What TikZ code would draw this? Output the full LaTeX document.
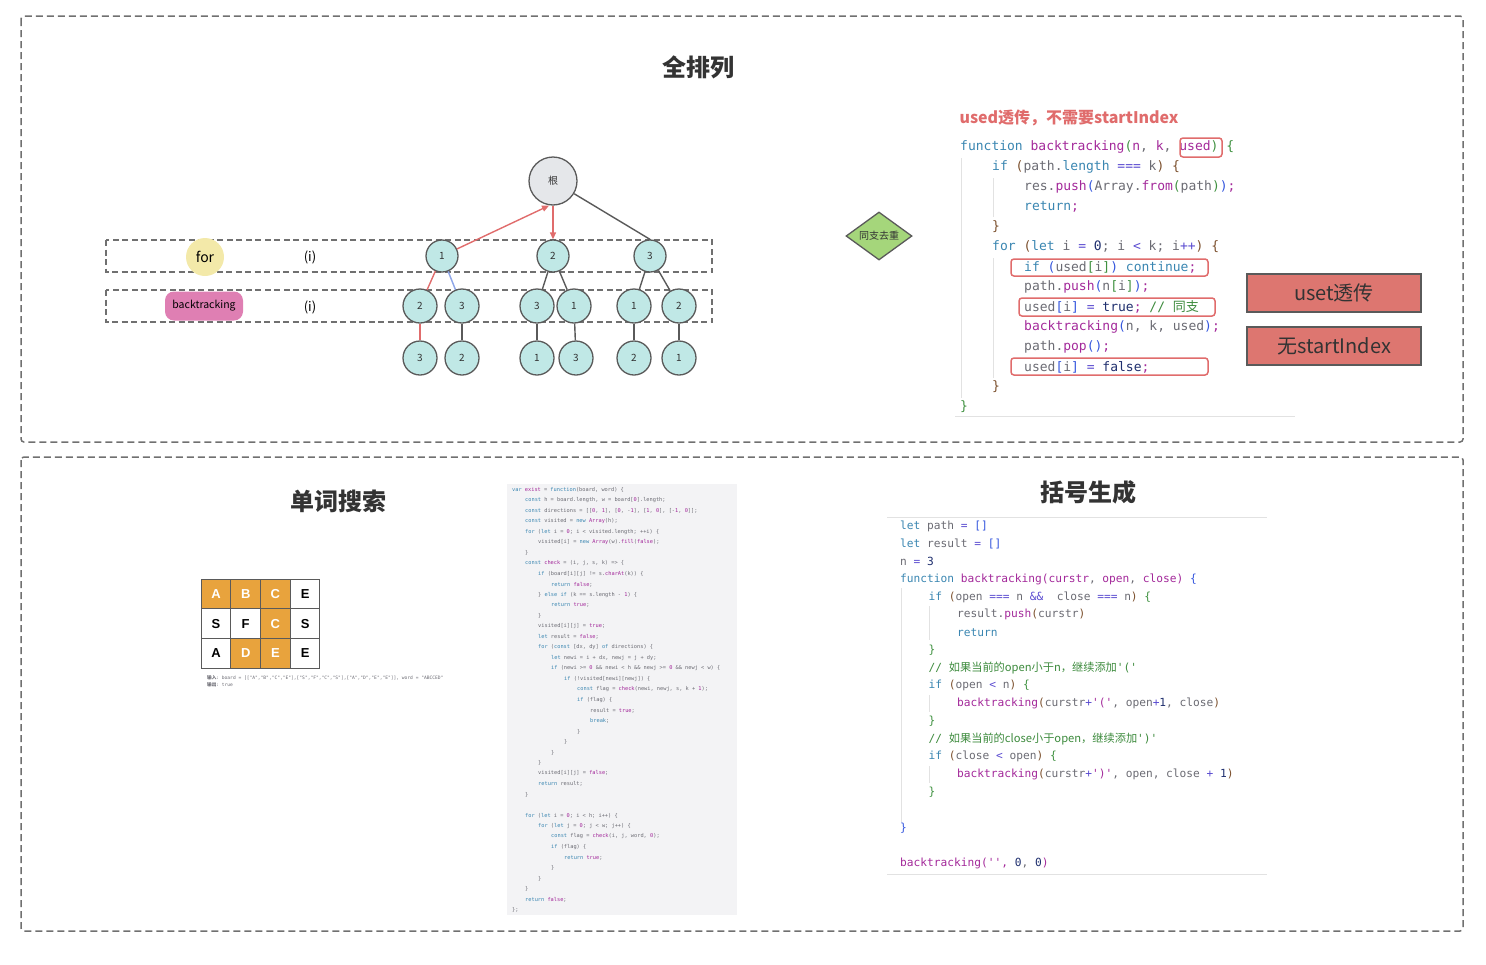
\documentclass[tikz,border=0pt]{standalone}
\usepackage{fontspec}
\setmonofont{DejaVu Sans Mono}
\newfontfamily\cjk{Noto Sans CJK SC}
\newfontfamily\arialf{Liberation Sans}
\usetikzlibrary{arrows.meta,shapes.geometric}
\definecolor{ckw}{HTML}{3A86B1}
\definecolor{cfn}{HTML}{A3299A}
\definecolor{cvr}{HTML}{6B6B73}
\definecolor{cpa}{HTML}{7B4F2C}
\definecolor{cgr}{HTML}{3F9140}
\definecolor{cbl}{HTML}{3355DD}
\definecolor{cnu}{HTML}{1F2F6E}
\definecolor{cop}{HTML}{5A4BD0}
\definecolor{ccm}{HTML}{3C8A3C}
\definecolor{boxgray}{HTML}{707070}
\definecolor{nodeline}{HTML}{5A5A5A}
\definecolor{cyanfill}{HTML}{C0E8E6}
\definecolor{rootfill}{HTML}{E5E7EA}
\definecolor{forfill}{HTML}{F3E9A9}
\definecolor{pinkfill}{HTML}{DF7FB3}
\definecolor{diafill}{HTML}{A5D67B}
\definecolor{redfill}{HTML}{DD7670}
\definecolor{redline}{HTML}{E06C6C}
\definecolor{blueline}{HTML}{8EA6E8}
\definecolor{orangecell}{HTML}{E8A33D}
\definecolor{codebg}{HTML}{F3F3F5}
\definecolor{guide}{HTML}{E2E2E2}
\definecolor{titlecol}{HTML}{333333}
\newcommand\CKw[1]{\textcolor{ckw}{#1}}
\newcommand\CFn[1]{\textcolor{cfn}{#1}}
\newcommand\CPa[1]{\textcolor{cpa}{#1}}
\newcommand\CGr[1]{\textcolor{cgr}{#1}}
\newcommand\CBl[1]{\textcolor{cbl}{#1}}
\newcommand\CNu[1]{\textcolor{cnu}{#1}}
\newcommand\COp[1]{\textcolor{cop}{#1}}
\newcommand\CCm[1]{\textcolor{ccm}{#1}}
\newcommand\tline[3]{\node[tcode] (t#1) at ({960+32*#2},{147+20*(#1-1)}) {#3};}
\newcommand\pline[3]{\node[pcode] (p#1) at ({900+28.5*#2},{526+17.75*(#1-1)}) {#3};}
\newcommand\mline[3]{\node[mcode] (m#1) at ({512+13*#2},{490+10.5*(#1-1)}) {#3};}
\tikzset{
  outerbox/.style={draw=boxgray, line width=1.5pt, dash pattern=on 7pt off 4pt, rounded corners=3pt},
  rowbox/.style={draw=boxgray, line width=1.4pt, dash pattern=on 6pt off 3.5pt},
  title/.style={font=\cjk\bfseries\fontsize{24}{28}\selectfont, text=titlecol, inner sep=0},
  tnode/.style={circle, draw=nodeline, line width=1.3pt, fill=cyanfill, minimum size=#1, inner sep=0, font=\cjk\fontsize{10}{12}\selectfont, text=titlecol},
  tnode/.default=34pt,
  rootnode/.style={circle, draw=nodeline, line width=1.3pt, fill=rootfill, minimum size=48pt, inner sep=0, font=\cjk\fontsize{10}{12}\selectfont, text=titlecol},
  gedge/.style={draw=nodeline, line width=1.4pt},
  redge/.style={draw=redline, line width=1.4pt},
  redarrow/.style={draw=redline, line width=1.4pt, -{Triangle[length=7pt,width=6pt]}},
  bedge/.style={draw=blueline, line width=1.4pt},
  lbl/.style={font=\cjk\fontsize{13}{15}\selectfont, text=black, inner sep=0},
  tcode/.style={anchor=west, inner sep=0, font=\ttfamily\fontsize{13}{15}\selectfont, text=cvr},
  pcode/.style={anchor=west, inner sep=0, font=\ttfamily\fontsize{11.2}{13}\selectfont, text=cvr},
  mcode/.style={anchor=west, inner sep=0, font=\ttfamily\fontsize{5.3}{6}\selectfont, text=cvr},
  hilite/.style={draw=redline, line width=1.5pt, rounded corners=3pt},
  redbox/.style={draw=nodeline, line width=1.5pt, fill=redfill, minimum width=174pt, minimum height=38pt, inner sep=0, font=\cjk\fontsize{20}{24}\selectfont, text=titlecol},
  cell/.style={draw=nodeline, line width=1pt, minimum width=29.7pt, minimum height=29.7pt, inner sep=0, font=\arialf\bfseries\fontsize{13}{15}\selectfont},
  ocell/.style={cell, fill=orangecell, text=white},
  wcell/.style={cell, fill=white, text=black},
  guideline/.style={draw=guide, line width=0.8pt}
}
\begin{document}
\begin{tikzpicture}[x=1pt,y=-1pt]
\useasboundingbox (0,0) rectangle (1486,964);
% outer frames
\draw[outerbox] (21,16) rectangle (1463,442);
\draw[outerbox] (21,457) rectangle (1463,931);
% ===== top section =====
\node[title] (t-title) at (698,67) {全排列};
% row boxes
\draw[rowbox] (106,240) rectangle (712,272);
\draw[rowbox] (106,290) rectangle (712,322);
\node[circle, fill=forfill, minimum size=38pt, inner sep=0, font=\cjk\fontsize{14}{16}\selectfont] (forlbl) at (205,257) {for};
\node[lbl] (i1) at (310,257) {(i)};
\node[rounded corners=9pt, fill=pinkfill, minimum width=78pt, minimum height=29pt, inner sep=0, font=\cjk\fontsize{10.5}{12}\selectfont] (btlbl) at (204,306) {backtracking};
\node[lbl] (i2) at (310,307) {(i)};
% tree nodes
\node[rootnode] (root) at (553,181) {根};
\node[tnode=32pt] (n1) at (442,256) {1};
\node[tnode=32pt] (n2) at (553,256) {2};
\node[tnode=32pt] (n3) at (650,256) {3};
\node[tnode] (a) at (420,306) {2};
\node[tnode] (b) at (462,306) {3};
\node[tnode] (c) at (537,306) {3};
\node[tnode] (d) at (574,306) {1};
\node[tnode] (e) at (634,306) {1};
\node[tnode] (f) at (679,306) {2};
\node[tnode] (a3) at (420,358) {3};
\node[tnode] (b3) at (462,358) {2};
\node[tnode] (c3) at (537,358) {1};
\node[tnode] (d3) at (576,358) {3};
\node[tnode] (e3) at (634,358) {2};
\node[tnode] (f3) at (679,358) {1};
% tree edges
\draw[redarrow] (n1) -- ([xshift=-4pt]root.south);
\draw[redarrow] (root.south) -- (n2);
\draw[gedge] (root) -- (n3.north);
\draw[redge] (n1) -- (a);
\draw[bedge] (n1) -- (b);
\draw[gedge] (n2) -- (c);
\draw[gedge] (n2) -- (d);
\draw[gedge] (n3) -- (e);
\draw[gedge] (n3) -- (f);
\draw[redge] (a) -- (a3);
\draw[gedge] (b) -- (b3);
\draw[gedge] (c) -- (c3);
\draw[gedge] (d) -- (d3);
\draw[gedge] (e) -- (e3);
\draw[gedge] (f) -- (f3);
% diamond
\node[diamond, aspect=1.4, draw=nodeline, line width=1.3pt, fill=diafill, minimum width=66pt, minimum height=48pt, inner sep=0, font=\cjk\fontsize{10}{12}\selectfont, text=titlecol] (dia) at (879,236) {同支去重};
% red label
\node[font=\cjk\bfseries\fontsize{16}{19}\selectfont, text=redline, inner sep=0] (usedlbl) at (1069,118) {used透传，不需要startIndex};
% code guides
\draw[guideline] (961,158) -- (961,398);
\draw[guideline] (993,178) -- (993,217);
\draw[guideline] (993,258) -- (993,378);
\draw[guideline] (955,416) -- (1295,416);
% top-right code
\tline{1}{0}{\CKw{function} \CFn{backtracking}\CGr{(}\CFn{n}, \CFn{k}, \CFn{used}\CGr{)} \CGr{\{}}
\tline{2}{1}{\CKw{if} \CPa{(}path.\CKw{length} \COp{===} k\CPa{)} \CPa{\{}}
\tline{3}{2}{res.\CFn{push}\CBl{(}Array.\CFn{from}\CGr{(}path\CGr{)}\CBl{)}\CFn{;}}
\tline{4}{2}{\CKw{return}\CFn{;}}
\tline{5}{1}{\CPa{\}}}
\tline{6}{1}{\CKw{for} \CPa{(}\CKw{let} i \COp{=} \CNu{0}; i \COp{<} k; i\COp{++}\CPa{)} \CPa{\{}}
\tline{7}{2}{\CKw{if} \CBl{(}used\CGr{[}i\CGr{]}\CBl{)} \CKw{continue}\CFn{;}}
\tline{8}{2}{path.\CFn{push}\CBl{(}n\CGr{[}i\CGr{]}\CBl{)}\CFn{;}}
\tline{9}{2}{used\CBl{[}i\CBl{]} \COp{=} \CNu{true}\CFn{;} \CCm{// {\cjk 同支}}}
\tline{10}{2}{\CFn{backtracking}\CBl{(}n, k, used\CBl{)}\CFn{;}}
\tline{11}{2}{path.\CFn{pop}\CBl{()}\CFn{;}}
\tline{12}{2}{used\CBl{[}i\CBl{]} \COp{=} \CNu{false}\CFn{;}}
\tline{13}{1}{\CPa{\}}}
\tline{14}{0}{\CGr{\}}}
% highlights
\draw[hilite] (1180,138) rectangle (1222,157);
\draw[hilite] (1011,259) rectangle (1208,276);
\draw[hilite] (1019,298) rectangle (1215,316);
\draw[hilite] (1011,358) rectangle (1208,375);
% right boxes
\node[redbox] (rb1) at (1334,293) {uset透传};
\node[redbox] (rb2) at (1334,346) {无startIndex};
% ===== bottom section =====
\node[title] (w-title) at (338,501) {单词搜索};
\node[title] (p-title) at (1088,492) {括号生成};
% grid
\node[ocell] (g11) at (216,594) {A};
\node[ocell] (g12) at (245.7,594) {B};
\node[ocell] (g13) at (275.4,594) {C};
\node[wcell] (g14) at (305.1,594) {E};
\node[wcell] (g21) at (216,623.7) {S};
\node[wcell] (g22) at (245.7,623.7) {F};
\node[ocell] (g23) at (275.4,623.7) {C};
\node[wcell] (g24) at (305.1,623.7) {S};
\node[wcell] (g31) at (216,653.4) {A};
\node[ocell] (g32) at (245.7,653.4) {D};
\node[ocell] (g33) at (275.4,653.4) {E};
\node[wcell] (g34) at (305.1,653.4) {E};
\node[anchor=west, inner sep=0, font=\ttfamily\fontsize{4.6}{5.5}\selectfont, text=cvr] (cap1) at (207,678) {{\cjk\bfseries 输入}: board = [["A","B","C","E"],["S","F","C","S"],["A","D","E","E"]], word = "ABCCED"};
\node[anchor=west, inner sep=0, font=\ttfamily\fontsize{4.6}{5.5}\selectfont, text=cvr] (cap2) at (207,685) {{\cjk\bfseries 输出}: true};
% middle code block
\fill[codebg] (507,484) rectangle (737,915);
\mline{1}{0}{\CKw{var} \CFn{exist} = \CKw{function}(board, word) \{}
\mline{2}{1}{\CKw{const} h = board.length, w = board[\CFn{0}].length;}
\mline{3}{1}{\CKw{const} directions = [[\CFn{0}, \CFn{1}], [\CFn{0}, -\CFn{1}], [\CFn{1}, \CFn{0}], [-\CFn{1}, \CFn{0}]];}
\mline{4}{1}{\CKw{const} visited = \CKw{new} \CFn{Array}(h);}
\mline{5}{1}{\CKw{for} (\CKw{let} i = \CFn{0}; i < visited.length; ++i) \{}
\mline{6}{2}{visited[i] = \CKw{new} \CFn{Array}(w).\CFn{fill}(\CFn{false});}
\mline{7}{1}{\}}
\mline{8}{1}{\CKw{const} \CFn{check} = (i, j, s, k) => \{}
\mline{9}{2}{\CKw{if} (board[i][j] != s.\CFn{charAt}(k)) \{}
\mline{10}{3}{\CKw{return} \CFn{false};}
\mline{11}{2}{\} \CKw{else if} (k == s.length - \CFn{1}) \{}
\mline{12}{3}{\CKw{return} \CFn{true};}
\mline{13}{2}{\}}
\mline{14}{2}{visited[i][j] = \CFn{true};}
\mline{15}{2}{\CKw{let} result = \CFn{false};}
\mline{16}{2}{\CKw{for} (\CKw{const} [dx, dy] \CKw{of} directions) \{}
\mline{17}{3}{\CKw{let} newi = i + dx, newj = j + dy;}
\mline{18}{3}{\CKw{if} (newi >= \CFn{0} \&\& newi < h \&\& newj >= \CFn{0} \&\& newj < w) \{}
\mline{19}{4}{\CKw{if} (!visited[newi][newj]) \{}
\mline{20}{5}{\CKw{const} flag = \CFn{check}(newi, newj, s, k + \CFn{1});}
\mline{21}{5}{\CKw{if} (flag) \{}
\mline{22}{6}{result = \CFn{true};}
\mline{23}{6}{\CKw{break};}
\mline{24}{5}{\}}
\mline{25}{4}{\}}
\mline{26}{3}{\}}
\mline{27}{2}{\}}
\mline{28}{2}{visited[i][j] = \CFn{false};}
\mline{29}{2}{\CKw{return} result;}
\mline{30}{1}{\}}
\mline{32}{1}{\CKw{for} (\CKw{let} i = \CFn{0}; i < h; i++) \{}
\mline{33}{2}{\CKw{for} (\CKw{let} j = \CFn{0}; j < w; j++) \{}
\mline{34}{3}{\CKw{const} flag = \CFn{check}(i, j, word, \CFn{0});}
\mline{35}{3}{\CKw{if} (flag) \{}
\mline{36}{4}{\CKw{return} \CFn{true};}
\mline{37}{3}{\}}
\mline{38}{2}{\}}
\mline{39}{1}{\}}
\mline{40}{1}{\CKw{return} \CFn{false};}
\mline{41}{0}{\};}
% parentheses code
\draw[guideline] (887,517) -- (1267,517);
\draw[guideline] (887,874) -- (1267,874);
\draw[guideline] (901,588) -- (901,822);
\draw[guideline] (929,606) -- (929,640);
\draw[guideline] (929,695) -- (929,712);
\draw[guideline] (929,766) -- (929,783);
\pline{1}{0}{\CKw{let} path \COp{=} \CBl{[]}}
\pline{2}{0}{\CKw{let} result \COp{=} \CBl{[]}}
\pline{3}{0}{n \COp{=} \CNu{3}}
\pline{4}{0}{\CKw{function} \CFn{backtracking(curstr}, \CFn{open}, \CFn{close)} \CBl{\{}}
\pline{5}{1}{\CKw{if} \CPa{(}open \COp{===} n \COp{\&\&}\ \ close \COp{===} n\CPa{)} \CGr{\{}}
\pline{6}{2}{result.\CFn{push}\CPa{(}curstr\CPa{)}}
\pline{7}{2}{\CKw{return}}
\pline{8}{1}{\CGr{\}}}
\pline{9}{1}{\CCm{// {\cjk 如果当前的open小于n，继续添加}'('}}
\pline{10}{1}{\CKw{if} \CPa{(}open \COp{<} n\CPa{)} \CGr{\{}}
\pline{11}{2}{\CFn{backtracking}\CPa{(}curstr\COp{+}\CFn{'('}, open\COp{+}\CNu{1}, close\CPa{)}}
\pline{12}{1}{\CGr{\}}}
\pline{13}{1}{\CCm{// {\cjk 如果当前的close小于open，继续添加}')'}}
\pline{14}{1}{\CKw{if} \CPa{(}close \COp{<} open\CPa{)} \CGr{\{}}
\pline{15}{2}{\CFn{backtracking}\CPa{(}curstr\COp{+}\CFn{')'}, open, close \COp{+} \CNu{1}\CPa{)}}
\pline{16}{1}{\CGr{\}}}
\pline{18}{0}{\CBl{\}}}
\pline{20}{0}{\CFn{backtracking('',} \CNu{0}, \CNu{0}\CFn{)}}
\end{tikzpicture}
\end{document}
